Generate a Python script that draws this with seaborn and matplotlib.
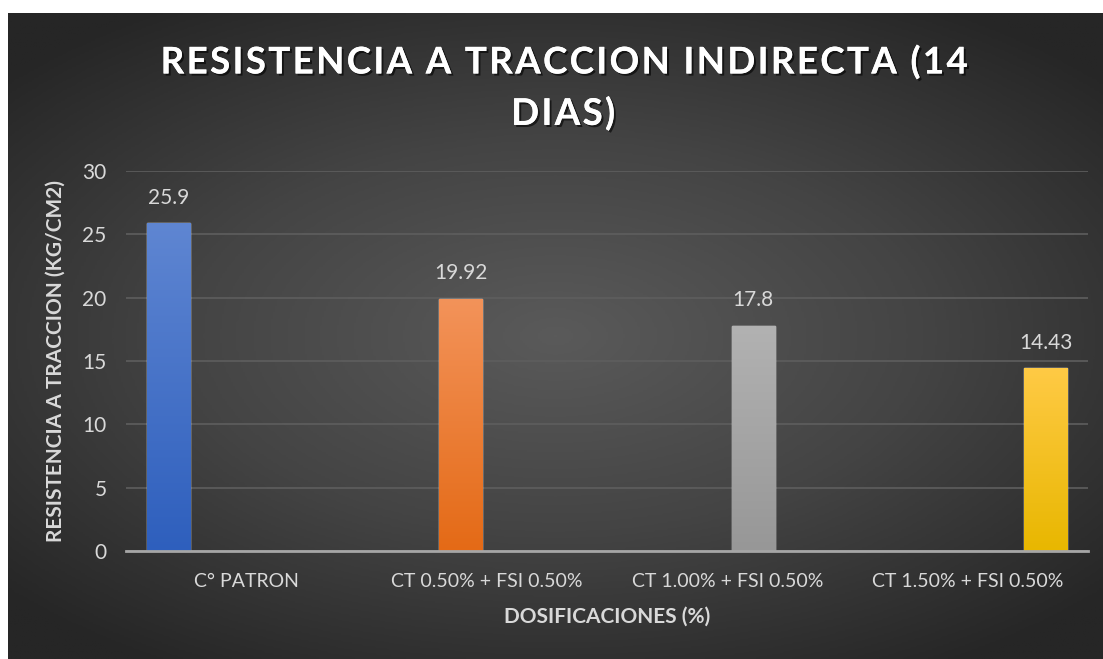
import matplotlib
matplotlib.use("Agg")
import matplotlib.pyplot as plt
import matplotlib.patheffects as pe
from matplotlib.colors import LinearSegmentedColormap
import seaborn as sns
import numpy as np
import pandas as pd

categories = ["C° PATRON", "CT 0.50% + FSI 0.50%", "CT 1.00% + FSI 0.50%", "CT 1.50% + FSI 0.50%"]
values = [25.9, 19.92, 17.8, 14.43]
labels = ["25.9", "19.92", "17.8", "14.43"]
# top / bottom colour of each bar's gradient
bar_tops = ["#5f86d2", "#f3935a", "#b2b2b2", "#ffca45"]
bar_bottoms = ["#2e5fbd", "#e46a16", "#979797", "#e8b700"]

df = pd.DataFrame({"dosificacion": categories, "resistencia": values})

sns.set_style("dark")
plt.rcParams["font.family"] = ["Lato", "DejaVu Sans"]

fig = plt.figure(figsize=(11.03, 6.59), dpi=100)
fig.patch.set_facecolor("white")

# radial gradient background of the chart area
bg = fig.add_axes([8 / 1103, 0, 1 - 8 / 1103, 646 / 659], zorder=0)
yy, xx = np.mgrid[-1:1:300j, -1:1:500j]
r = np.sqrt((xx / 1.0) ** 2 + (yy / 0.9) ** 2)
r = np.clip(r / 1.35, 0, 1)
bg_cmap = LinearSegmentedColormap.from_list("bg", ["#5a5a5a", "#444444", "#262626"])
bg.imshow(r, cmap=bg_cmap, aspect="auto", extent=[0, 1, 0, 1], vmin=0, vmax=1)
bg.set_axis_off()

ax = fig.add_axes([126 / 1103, 108 / 659, 962 / 1103, 380 / 659], zorder=1)
ax.patch.set_alpha(0)

sns.barplot(data=df, x="dosificacion", y="resistencia", hue="dosificacion",
            order=categories, hue_order=categories, dodge=True,
            width=0.865, gap=0.17, legend=False, ax=ax, saturation=1,
            palette=bar_bottoms)

# vertical colour gradient inside each bar, plus value labels
for i, cont in enumerate(ax.containers):
    top, bot = bar_tops[i], bar_bottoms[i]
    for bar in cont:
        x0, y0 = bar.get_x(), bar.get_y()
        w, h = bar.get_width(), bar.get_height()
        if h <= 0:
            continue
        cm = LinearSegmentedColormap.from_list("g", [bot, top])
        grad = np.linspace(0, 1, 256).reshape(-1, 1)
        im = ax.imshow(grad, cmap=cm, origin="lower", aspect="auto",
                       extent=[x0, x0 + w, y0, y0 + h], zorder=2)
        im.set_clip_path(bar)
    ax.bar_label(cont, labels=[labels[i]] * len(cont),
                 padding=11, color="#d9d9d9", fontsize=15)

ax.set_xlim(-0.5, 3.5)
ax.set_ylim(0, 30)
ax.set_yticks(range(0, 31, 5))
ax.grid(axis="y", color="#5e5e5e", linewidth=1.2)
ax.set_axisbelow(True)
for s in ["top", "right", "left"]:
    ax.spines[s].set_visible(False)
ax.spines["bottom"].set_color("#a6a6a6")
ax.spines["bottom"].set_linewidth(2)
ax.spines["bottom"].set_zorder(3)
ax.tick_params(axis="both", colors="#d9d9d9", labelsize=15, length=0)
ax.tick_params(axis="x", labelsize=14, pad=16)
ax.tick_params(axis="y", pad=14)

ax.set_xlabel("DOSIFICACIONES (%)", color="#d9d9d9", fontsize=15,
              fontweight="bold", labelpad=12)
ax.set_ylabel("RESISTENCIA A TRACCION (KG/CM2)", color="#d9d9d9", fontsize=15,
              fontweight="bold", labelpad=12)

# letter-spaced title (hair spaces between characters)
title_lines = ["RESISTENCIA A TRACCION INDIRECTA (14", "DIAS)"]
spaced = "\n".join("\u200a".join(line) for line in title_lines)
fig.text(563 / 1103, 1 - 88 / 659, spaced,
         ha="center", va="center", color="white", fontsize=26.5, fontweight="bold",
         linespacing=1.6,
         path_effects=[pe.withSimplePatchShadow(offset=(1.5, -1.5), shadow_rgbFace="black", alpha=0.6),
                       pe.Normal()])

fig.savefig("out.png", dpi=100, facecolor=fig.get_facecolor())
